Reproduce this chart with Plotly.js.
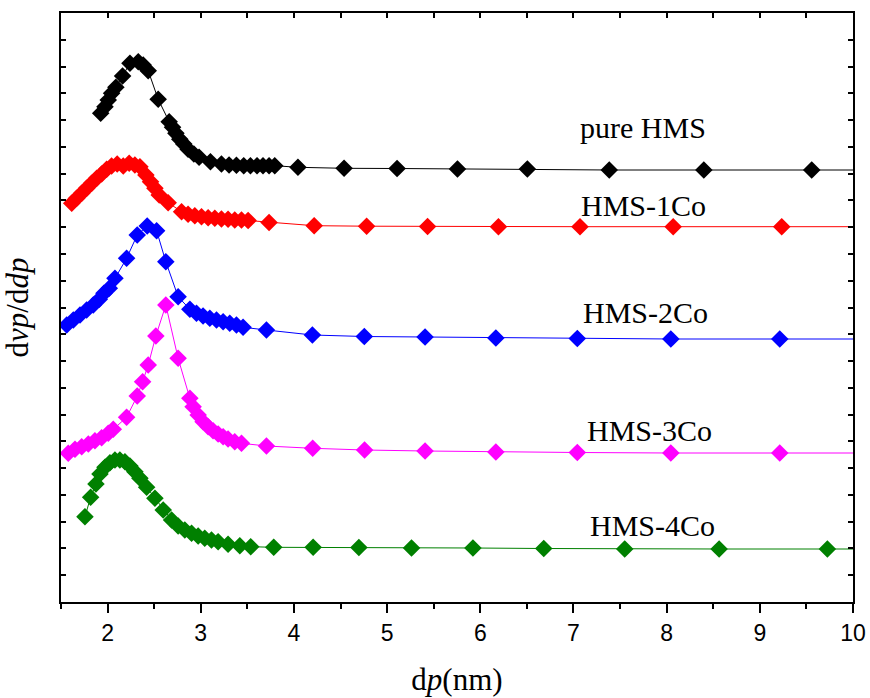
<!DOCTYPE html>
<html>
<head>
<meta charset="utf-8">
<script src="https://cdn.plot.ly/plotly-3.0.1.min.js"></script>
<style>html,body{margin:0;padding:0;background:#fff;}#chart{width:870px;height:698px;}</style>
</head>
<body>
<div id="chart"></div>
<script>
// Pore diameter dp (nm) and dvp/ddp (arbitrary, offset units)
const pureX = [1.926,1.972,2.007,2.043,2.089,2.161,2.240,2.329,2.382,2.436,2.543,2.661,2.697,2.733,2.775,2.818,2.864,2.926,2.982,3.104,3.222,3.304,3.383,3.461,3.533,3.604,3.668,3.733,3.794,4.043,4.538,5.107,5.755,6.505,7.384,8.399,9.557,10.9];
const pureY = [488.7,495.3,502,508.7,514.7,526,538.7,540.3,537,531.3,502.7,480.3,474.7,468.7,462.7,458,452.7,448,444.7,440.3,438,437,436.7,436.3,436.3,436.3,436.3,436.3,436.3,434.7,433.7,433.5,433,433,432,432,432,432];

const co1X = [1.615,1.668,1.722,1.775,1.829,1.883,1.936,1.990,2.043,2.103,2.168,2.232,2.293,2.347,2.411,2.461,2.508,2.554,2.650,2.794,2.864,2.936,3.008,3.079,3.151,3.222,3.293,3.365,3.437,3.508,3.733,4.217,4.780,5.434,6.195,7.070,8.070,9.235,10.5];
const co1Y = [398.7,403.7,408.7,413.7,418.7,423.7,428,432.7,436,438,436,438.7,437,435.3,427,420.3,413.7,407,399.3,390.3,387.7,386.3,385.3,384.3,383.7,383,382.7,382,382,381.5,379.5,376.3,375.8,375.5,375.3,375.3,375.3,375.3,375.3];

const co2X = [1.561,1.632,1.704,1.775,1.846,1.911,1.961,2.018,2.079,2.204,2.318,2.425,2.526,2.625,2.757,2.883,2.954,3.025,3.097,3.169,3.240,3.311,3.383,3.454,3.705,4.198,4.755,5.407,6.167,7.041,8.045,9.214,10.5];
const co2Y = [277,282,287,292,297,302.7,308.7,313.7,323.7,343.7,367,376,371.3,340.3,305.3,292.7,288.7,286,283.7,282,280.3,278.7,277,274.7,272,267,265.5,265,264,263.5,263,263,263];

const co3X = [1.578,1.650,1.722,1.793,1.864,1.936,2.007,2.061,2.204,2.318,2.376,2.436,2.518,2.625,2.757,2.883,2.918,2.972,3.025,3.079,3.132,3.186,3.240,3.293,3.365,3.437,3.705,4.201,4.758,5.407,6.167,7.041,8.045,9.214,10.5];
const co3Y = [148.7,152.7,155.3,158,161.3,164.3,168.7,172.7,184.7,206,220.3,237,266,297,243.7,203.7,195.3,187,180.3,175.3,171.3,168,165.3,163,160.3,158.7,156,153.7,152,151,150,149.5,149,149,149];

const co4X = [1.757,1.818,1.875,1.918,1.972,2.025,2.079,2.132,2.186,2.240,2.293,2.347,2.419,2.508,2.597,2.687,2.757,2.829,2.901,2.972,3.043,3.115,3.186,3.293,3.419,3.536,3.783,4.206,4.697,5.262,5.921,6.681,7.550,8.563,9.725,10.9];
const co4Y = [85.3,104.7,118,128,134.7,139.3,142,142,140.3,136,130.3,123.7,114.7,103.7,92,82,76,72,68.7,66,63.7,62,60.3,57.7,56.3,55.3,54.7,54.7,54.5,54,54,53.5,53,53,53,53];

const seriesNames = ['pure HMS','HMS-1Co','HMS-2Co','HMS-3Co','HMS-4Co'];
const seriesColors = ['#000000','#ff0000','#0000ff','#ff00ff','#008000'];
const seriesX = [pureX, co1X, co2X, co3X, co4X];
const seriesY = [pureY, co1Y, co2Y, co3Y, co4Y];

const traces = seriesX.map((xs, i) => ({
  x: xs, y: seriesY[i], name: seriesNames[i],
  type: 'scatter', mode: 'lines+markers',
  line: {color: seriesColors[i], width: 1},
  marker: {symbol: 'diamond', size: 13.5, color: seriesColors[i], line: {width: 0}},
  showlegend: false, hoverinfo: 'x+y'
}));
traces.push({x: [], y: [], xaxis: 'x2', yaxis: 'y', showlegend: false, hoverinfo: 'skip'});

const labelPos = [[7.75,475],[7.75,397],[7.77,290],[7.82,172],[7.85,77]];
const annotations = seriesNames.map((n, i) => ({
  x: labelPos[i][0], y: labelPos[i][1], xref: 'x', yref: 'y', text: n, showarrow: false,
  xanchor: 'center', yanchor: 'middle',
  font: {family: 'Liberation Serif, Times New Roman, serif', size: 30, color: '#000'}
}));

const layout = {
  width: 870, height: 698,
  margin: {l: 61, r: 17, t: 13, b: 96},
  paper_bgcolor: '#fff', plot_bgcolor: '#fff',
  xaxis: {
    range: [1.5, 10], tick0: 2, dtick: 1, ticks: 'outside', ticklen: 9, tickwidth: 2, tickcolor: '#000',
    minor: {dtick: 0.5, tick0: 1.5, ticks: 'outside', ticklen: 5, tickwidth: 2, tickcolor: '#000'},
    showline: true, linewidth: 2, linecolor: '#000', showgrid: false, zeroline: false,
    tickfont: {family: 'Liberation Sans, Arial, sans-serif', size: 23, color: '#000'},
    title: {text: 'd<i>p</i>(nm)', standoff: 24, font: {family: 'Liberation Serif, Times New Roman, serif', size: 31, color: '#000'}}
  },
  xaxis2: {
    overlaying: 'x', side: 'top', anchor: 'y', range: [1.5, 10], tick0: 1.5, dtick: 0.5,
    ticks: 'inside', ticklen: 5, tickwidth: 2, tickcolor: '#000', showticklabels: false,
    showline: true, linewidth: 2, linecolor: '#000', showgrid: false, zeroline: false
  },
  yaxis: {
    range: [0, 589], tick0: 0, dtick: 26.77, ticks: 'inside', ticklen: 5, tickwidth: 2, tickcolor: '#000',
    showticklabels: false, showline: true, linewidth: 2, linecolor: '#000', mirror: 'ticks',
    showgrid: false, zeroline: false,
    title: {text: 'd<i>vp</i>/d<i>dp</i>', standoff: 24, font: {family: 'Liberation Serif, Times New Roman, serif', size: 31, color: '#000'}}
  },
  annotations: annotations
};

Plotly.newPlot('chart', traces, layout, {displayModeBar: false, staticPlot: true});
</script>
</body>
</html>
